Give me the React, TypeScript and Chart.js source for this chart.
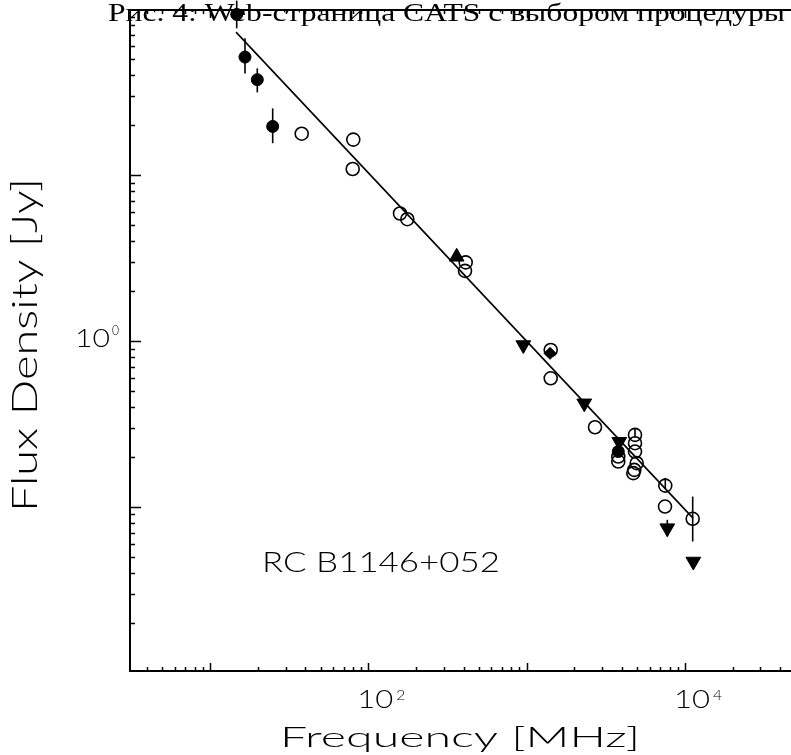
import { useEffect, useRef } from "react";
import { Chart, registerables } from "chart.js";

Chart.register(...registerables);

// Axis ranges (MHz, Jy)
const xMin = 3.124;
const xMax = 46800;
const yMin = 0.01023;
const yMax = 99.2;

// Labelled decades
const xLabelTicks = [100, 10000];
const yLabelTicks = [1];

// Power-law fit
const fitFreq = [14.6, 11250];
const fitFlux = [73.0, 0.0855];

// Open circles
const openFreq = [37.96, 80.4, 79.7, 158.6, 176.4, 412.4, 408.3, 1420, 1420, 2705, 3795, 3795, 4840, 4840, 4840, 4961, 4790, 4721, 7518, 7486, 11200];
const openFlux = [17.8, 16.4, 10.9, 5.88, 5.43, 2.98, 2.65, 0.883, 0.596, 0.302, 0.201, 0.1875, 0.2716, 0.242, 0.2155, 0.1834, 0.167, 0.1596, 0.1343, 0.1004, 0.0847];
const openErrLo: (number | null)[] = [null, null, null, null, null, null, null, null, null, null, null, null, 0.262, null, null, null, null, null, 0.128, null, 0.0618];
const openErrHi: (number | null)[] = [null, null, null, null, null, null, null, null, null, null, null, null, 0.299, null, null, null, null, null, 0.1496, null, 0.1153];

// Filled circles
const filledFreq = [14.75, 16.64, 19.9, 24.89, 3795];
const filledFlux = [93.3, 51.6, 37.7, 19.7, 0.2155];
const filledErrLo: (number | null)[] = [76.9, 41.1, 31.6, 15.6, null];
const filledErrHi: (number | null)[] = [113, 66.9, 44.1, 25.3, null];

// Filled triangles (up)
const triUpFreq = [361.7];
const triUpFlux = [3.22];

// Filled triangles (down)
const triDownFreq = [953.3, 2314, 3851, 7740, 11300];
const triDownFlux = [0.946, 0.421, 0.247, 0.0744, 0.0468];
const triDownErrLo: (number | null)[] = [null, null, null, 0.0662, null];
const triDownErrHi: (number | null)[] = [null, null, null, 0.0835, null];

// Filled diamond
const diamondFreq = [1406];
const diamondFlux = [0.843];

const sourceName = "RC B1146+052";
const xTitle = "Frequency [MHz]";
const yTitle = "Flux Density [Jy]";
const captionText = "Рис. 4: Web-страница CATS с выбором процедуры";

const LABEL_FONT = "Lato, 'DejaVu Sans', sans-serif";
const LW = "300";

const toPts = (xs: number[], ys: number[]) => xs.map((x, i) => ({ x, y: ys[i] }));

function drawFit(
  ctx: CanvasRenderingContext2D,
  text: string,
  x: number,
  y: number,
  font: string,
  targetW: number,
  align: CanvasTextAlign,
  rotate = false
) {
  ctx.save();
  ctx.font = font;
  const w = ctx.measureText(text).width;
  const sx = targetW / w;
  ctx.translate(x, y);
  if (rotate) ctx.rotate(-Math.PI / 2);
  ctx.scale(sx, 1);
  ctx.textAlign = align;
  ctx.textBaseline = "alphabetic";
  ctx.fillStyle = "#000";
  ctx.fillText(text, 0, 0);
  ctx.restore();
}

const errorBarPlugin = {
  id: "errorBars",
  beforeDatasetsDraw(chart: any) {
    const { ctx, scales } = chart;
    const xs = scales.x;
    const ys = scales.y;
    const groups: [number[], number[], (number | null)[], (number | null)[]][] = [
      [openFreq, openFlux, openErrLo, openErrHi],
      [filledFreq, filledFlux, filledErrLo, filledErrHi],
      [triDownFreq, triDownFlux, triDownErrLo, triDownErrHi],
    ];
    ctx.save();
    ctx.strokeStyle = "#000";
    ctx.lineWidth = 1.6;
    for (const [f, , lo, hi] of groups) {
      f.forEach((fv, i) => {
        const l = lo[i];
        const h = hi[i];
        if (l == null || h == null) return;
        const px = xs.getPixelForValue(fv);
        ctx.beginPath();
        ctx.moveTo(px, Math.max(0, ys.getPixelForValue(h)));
        ctx.lineTo(px, ys.getPixelForValue(l));
        ctx.stroke();
      });
    }
    ctx.restore();
  },
};

const framePlugin = {
  id: "frame",
  afterDatasetsDraw(chart: any) {
    const { ctx, chartArea: a, scales } = chart;
    const xs = scales.x;
    const ys = scales.y;
    ctx.save();

    // caption (LaTeX figure caption overlapping the top of the plot)
    drawFit(ctx, captionText, 108, 21, "26px 'Liberation Serif', serif", 677, "left");

    ctx.strokeStyle = "#000";
    ctx.lineWidth = 2;
    ctx.beginPath();
    ctx.moveTo(a.right + 2, a.top);
    ctx.lineTo(a.left, a.top);
    ctx.lineTo(a.left, a.bottom);
    ctx.lineTo(a.right + 2, a.bottom);
    ctx.stroke();

    ctx.lineWidth = 1.5;
    // x ticks (bottom and top, pointing inward)
    const xd0 = Math.floor(Math.log10(xs.min));
    const xd1 = Math.ceil(Math.log10(xs.max));
    ctx.beginPath();
    for (let d = xd0; d <= xd1; d++) {
      for (let m = 1; m <= 9; m++) {
        const v = m * Math.pow(10, d);
        if (v < xs.min || v > xs.max) continue;
        const px = Math.round(xs.getPixelForValue(v)) + 0.5;
        const len = m === 1 ? 8 : 4;
        ctx.moveTo(px, a.bottom);
        ctx.lineTo(px, a.bottom - len);
        ctx.moveTo(px, a.top);
        ctx.lineTo(px, a.top + len);
      }
    }
    // y ticks (left)
    const yd0 = Math.floor(Math.log10(ys.min));
    const yd1 = Math.ceil(Math.log10(ys.max));
    for (let d = yd0; d <= yd1; d++) {
      for (let m = 1; m <= 9; m++) {
        const v = m * Math.pow(10, d);
        if (v < ys.min || v > ys.max) continue;
        const py = Math.round(ys.getPixelForValue(v)) + 0.5;
        const len = m === 1 ? 11 : 5;
        ctx.moveTo(a.left, py);
        ctx.lineTo(a.left + len, py);
      }
    }
    ctx.stroke();

    // x tick labels 10^n
    for (const v of xLabelTicks) {
      const px = xs.getPixelForValue(v);
      const e = Math.round(Math.log10(v));
      drawFit(ctx, "10", px - 11, 708, `${LW} 25px ${LABEL_FONT}`, 36, "left");
      drawFit(ctx, String(e), px + 28, 700, `${LW} 13px ${LABEL_FONT}`, 9, "left");
    }
    // y tick labels
    for (const v of yLabelTicks) {
      const py = ys.getPixelForValue(v);
      const e = Math.round(Math.log10(v));
      drawFit(ctx, "10", 110, py + 6, `${LW} 25px ${LABEL_FONT}`, 35, "right");
      drawFit(ctx, String(e), 112, py - 6, `${LW} 13px ${LABEL_FONT}`, 7, "left");
    }

    // axis titles
    drawFit(ctx, xTitle, 460, 747, `${LW} 28px ${LABEL_FONT}`, 360, "center");
    drawFit(ctx, yTitle, 37, 345, `${LW} 35px ${LABEL_FONT}`, 334, "center", true);

    // source name
    drawFit(ctx, sourceName, 262, 572, `${LW} 26.5px ${LABEL_FONT}`, 238, "left");

    ctx.restore();
  },
};

export default function App() {
  const ref = useRef<HTMLCanvasElement | null>(null);

  useEffect(() => {
    document.body.style.margin = "0";
    const canvas = ref.current;
    if (!canvas) return;
    const common = { clip: false as any, showLine: false };
    const chart = new Chart(canvas, {
      type: "scatter",
      data: {
        datasets: [
          {
            label: "fit",
            data: toPts(fitFreq, fitFlux),
            showLine: true,
            borderColor: "#000",
            borderWidth: 1.6,
            pointRadius: 0,
            clip: false as any,
          },
          {
            ...common,
            label: "open",
            data: toPts(openFreq, openFlux),
            pointStyle: "circle",
            pointRadius: 6.5,
            pointBorderWidth: 1.6,
            pointBorderColor: "#000",
            pointBackgroundColor: "rgba(0,0,0,0)",
          },
          {
            ...common,
            label: "filled",
            data: toPts(filledFreq, filledFlux),
            pointStyle: "circle",
            pointRadius: 6,
            pointBorderWidth: 1,
            pointBorderColor: "#000",
            pointBackgroundColor: "#000",
          },
          {
            ...common,
            label: "triUp",
            data: toPts(triUpFreq, triUpFlux),
            pointStyle: "triangle",
            pointRadius: 8.5,
            pointBorderWidth: 1,
            pointBorderColor: "#000",
            pointBackgroundColor: "#000",
          },
          {
            ...common,
            label: "triDown",
            data: toPts(triDownFreq, triDownFlux),
            pointStyle: "triangle",
            rotation: 180,
            pointRadius: 8.5,
            pointBorderWidth: 1,
            pointBorderColor: "#000",
            pointBackgroundColor: "#000",
          },
          {
            ...common,
            label: "diamond",
            data: toPts(diamondFreq, diamondFlux),
            pointStyle: "rectRot",
            pointRadius: 6,
            pointBorderWidth: 1,
            pointBorderColor: "#000",
            pointBackgroundColor: "#000",
          },
        ],
      },
      options: {
        animation: false,
        responsive: false,
        maintainAspectRatio: false,
        events: [],
        layout: { autoPadding: false, padding: { left: 130, top: 10, right: 0, bottom: 84 } },
        plugins: {
          legend: { display: false },
          tooltip: { enabled: false },
          title: { display: false },
        },
        scales: {
          x: { type: "logarithmic", min: xMin, max: xMax, display: false },
          y: { type: "logarithmic", min: yMin, max: yMax, display: false },
        },
      },
      plugins: [errorBarPlugin, framePlugin],
    });
    return () => chart.destroy();
  }, []);

  return (
    <div style={{ width: 791, height: 755, background: "#fff", overflow: "hidden" }}>
      <canvas ref={ref} width={791} height={755} style={{ display: "block", width: 791, height: 755 }} />
    </div>
  );
}
